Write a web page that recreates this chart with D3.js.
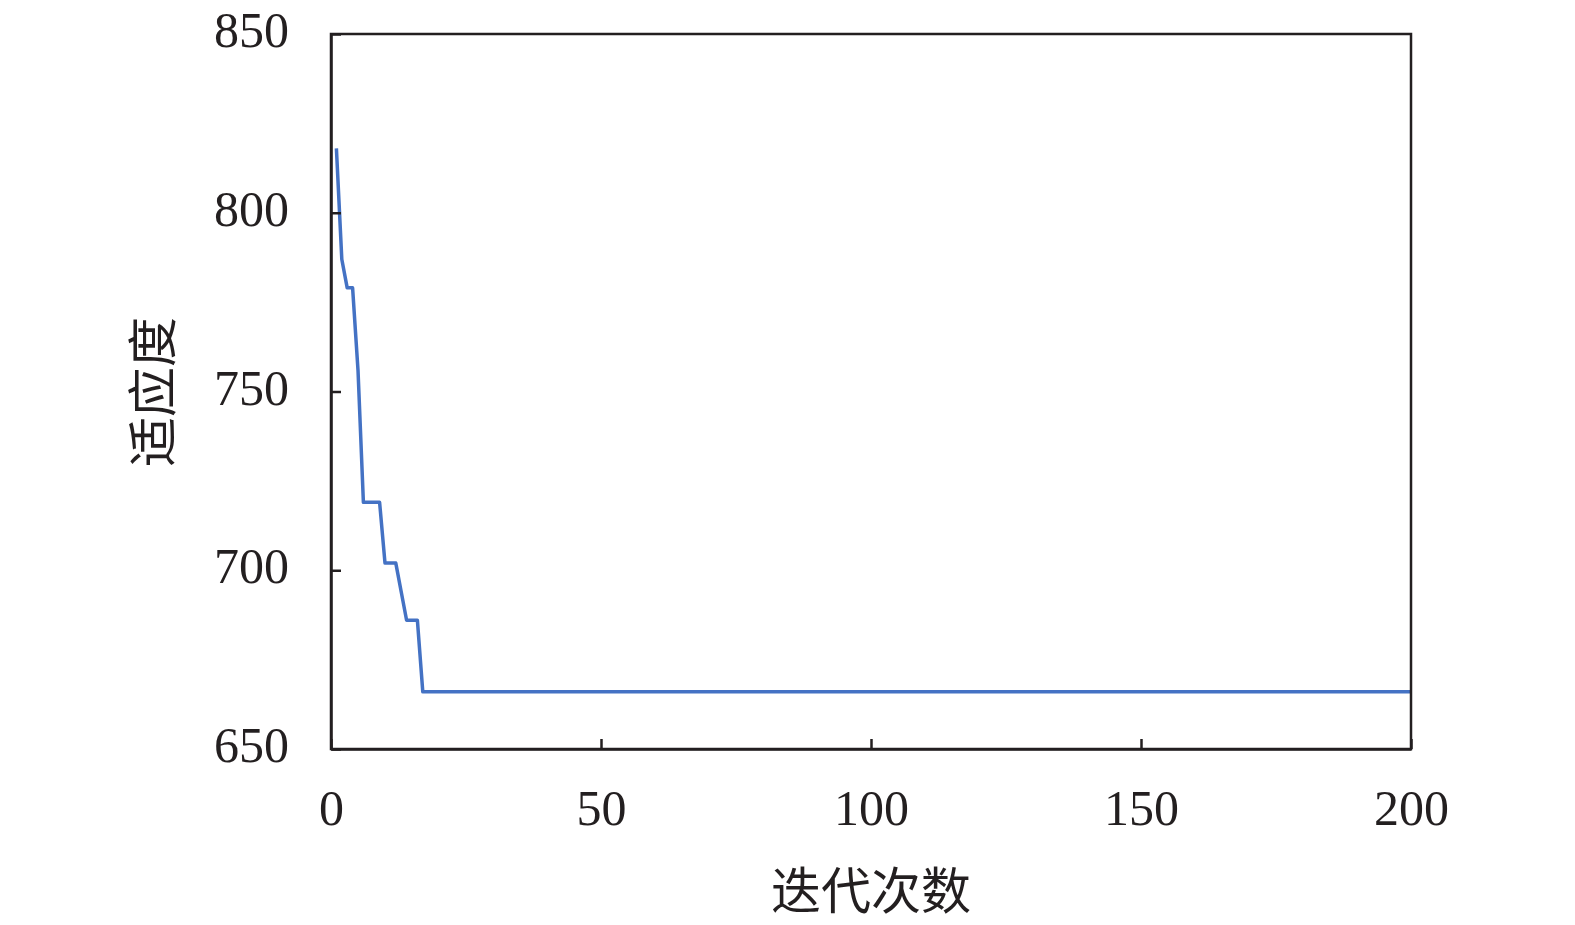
<!DOCTYPE html>
<html>
<head>
<meta charset="utf-8">
<script src="https://cdn.jsdelivr.net/npm/d3@7"></script>
<style>
  html, body { margin: 0; padding: 0; background: #fff; }
  svg { display: block; }
</style>
</head>
<body>
<svg id="chart" width="1575" height="925"></svg>
<script>
// Iterations and fitness values
const iterations = d3.range(1, 201);
const earlyFitness = [818, 787, 779, 779, 756, 719, 719, 719, 719, 702, 702, 702, 694, 686, 686, 686];
const finalFitness = 666;
const fitness = iterations.map((it, i) => i < earlyFitness.length ? earlyFitness[i] : finalFitness);
const xTicks = [0, 50, 100, 150, 200];
const yTicks = [650, 700, 750, 800, 850];
const xLabel = "迭代次数";
const yLabel = "适应度";

const svg = d3.select("#chart");
const mLeft = 331, mRight = 1411, mTop = 34, mBottom = 749;

const x = d3.scaleLinear().domain([0, 200]).range([mLeft, mRight]);
const y = d3.scaleLinear().domain([650, 850]).range([mBottom, mTop]);

const serif = "'Liberation Serif', 'Times New Roman', serif";
const cjk = "'Noto Sans CJK SC', sans-serif";

// Data line
const line = d3.line().x((d, i) => x(iterations[i])).y(d => y(d));
svg.append("path")
  .datum(fitness)
  .attr("d", line)
  .attr("fill", "none")
  .attr("stroke", "#4472C4")
  .attr("stroke-width", 3.5)
  .attr("stroke-linejoin", "round");

// Frame
svg.append("rect")
  .attr("x", mLeft).attr("y", mTop)
  .attr("width", mRight - mLeft).attr("height", mBottom - mTop)
  .attr("fill", "none").attr("stroke", "#231f20").attr("stroke-width", 2.5);

// X axis (ticks pointing inward)
const xAxis = d3.axisBottom(x).tickValues(xTicks).tickSizeInner(-10).tickSizeOuter(0).tickPadding(40).tickFormat(d3.format("d"));
const gx = svg.append("g").attr("transform", `translate(0,${mBottom})`).call(xAxis);
gx.select(".domain").attr("stroke", "#231f20").attr("stroke-width", 2.5);
gx.selectAll(".tick line").attr("stroke", "#231f20").attr("stroke-width", 2.5);
gx.selectAll(".tick text").attr("font-family", serif).attr("font-size", 50).attr("fill", "#231f20");

// Y axis (ticks pointing inward)
const yAxis = d3.axisLeft(y).tickValues(yTicks).tickSizeInner(-10).tickSizeOuter(0).tickPadding(42).tickFormat(d3.format("d"));
const gy = svg.append("g").attr("transform", `translate(${mLeft},0)`).call(yAxis);
gy.select(".domain").attr("stroke", "#231f20").attr("stroke-width", 2.5);
gy.selectAll(".tick line").attr("stroke", "#231f20").attr("stroke-width", 2.5);
gy.selectAll(".tick text").attr("font-family", serif).attr("font-size", 50).attr("fill", "#231f20")
  .attr("dy", "0.25em");

// Axis titles
svg.append("text")
  .attr("x", 871).attr("y", 887)
  .attr("text-anchor", "middle").attr("dominant-baseline", "central")
  .attr("font-family", cjk).attr("font-size", 50).attr("fill", "#231f20")
  .text(xLabel);

svg.append("text")
  .attr("transform", "translate(149,392) rotate(-90)")
  .attr("text-anchor", "middle").attr("dominant-baseline", "central")
  .attr("font-family", cjk).attr("font-size", 50).attr("fill", "#231f20")
  .text(yLabel);
</script>
</body>
</html>
